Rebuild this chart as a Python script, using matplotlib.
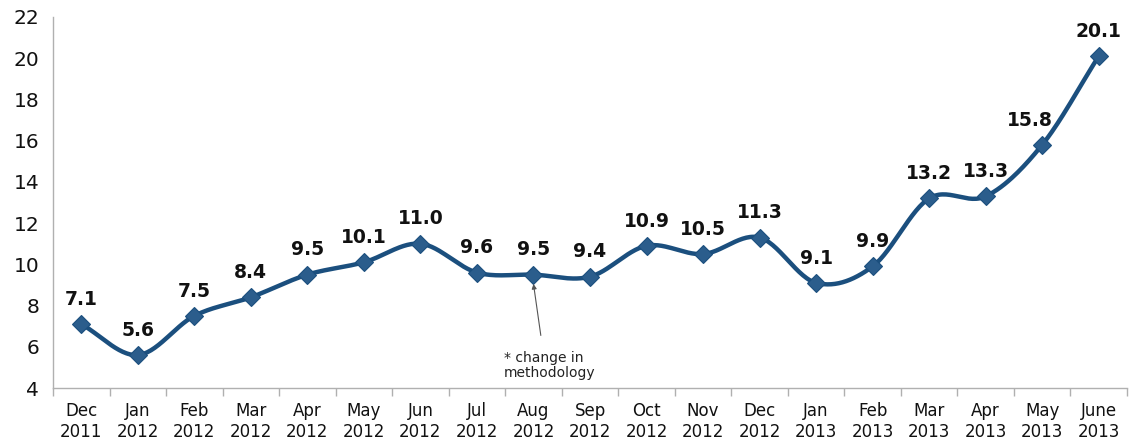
import numpy as np
import matplotlib
matplotlib.use("Agg")
import matplotlib.pyplot as plt
from matplotlib.ticker import FixedLocator

categories = ["Dec\n2011", "Jan\n2012", "Feb\n2012", "Mar\n2012", "Apr\n2012", "May\n2012",
              "Jun\n2012", "Jul\n2012", "Aug\n2012", "Sep\n2012", "Oct\n2012", "Nov\n2012",
              "Dec\n2012", "Jan\n2013", "Feb\n2013", "Mar\n2013", "Apr\n2013", "May\n2013",
              "June\n2013"]
values = [7.1, 5.6, 7.5, 8.4, 9.5, 10.1, 11.0, 9.6, 9.5, 9.4, 10.9, 10.5, 11.3,
          9.1, 9.9, 13.2, 13.3, 15.8, 20.1]
yticks = [4, 6, 8, 10, 12, 14, 16, 18, 20, 22]
note_text = "* change in\nmethodology"
note_index = 8

line_color = "#1b4f7e"
marker_color = "#2b5d8c"

def catmull_rom(x, y, n=30):
    x = np.asarray(x, float); y = np.asarray(y, float)
    px = np.concatenate([[2 * x[0] - x[1]], x, [2 * x[-1] - x[-2]]])
    py = np.concatenate([[2 * y[0] - y[1]], y, [2 * y[-1] - y[-2]]])
    xs, ys = [], []
    t = np.linspace(0, 1, n, endpoint=False)
    for i in range(1, len(px) - 2):
        f = lambda a0, a1, a2, a3: 0.5 * ((2 * a1) + (-a0 + a2) * t +
                                          (2 * a0 - 5 * a1 + 4 * a2 - a3) * t ** 2 +
                                          (-a0 + 3 * a1 - 3 * a2 + a3) * t ** 3)
        xs.append(f(px[i - 1], px[i], px[i + 1], px[i + 2]))
        ys.append(f(py[i - 1], py[i], py[i + 1], py[i + 2]))
    xs.append([x[-1]]); ys.append([y[-1]])
    return np.concatenate(xs), np.concatenate(ys)

fig = plt.figure(figsize=(11.31, 4.44), dpi=100)
ax = fig.add_axes([53 / 1131, 56 / 444, (1127 - 53) / 1131, (388 - 17) / 444])

x = np.arange(len(values))
sx, sy = catmull_rom(x, values)
ax.plot(sx, sy, color=line_color, lw=3.2, solid_capstyle="round", zorder=2)
ax.plot(x, values, ls="none", marker="D", ms=9.5, color=marker_color,
        markeredgecolor=line_color, markeredgewidth=0.8, zorder=3)

label_shift = {17: -9}
for i, (xi, v) in enumerate(zip(x, values)):
    ax.annotate(f"{v:.1f}", (xi, v), xytext=(label_shift.get(i, 0), 11),
                textcoords="offset points", ha="center", va="bottom",
                fontsize=13.5, fontweight="bold", color="#111111")

ax.annotate("", xy=(note_index, values[note_index] - 0.45), xycoords="data",
            xytext=(note_index + 0.13, 6.55), textcoords="data",
            arrowprops=dict(arrowstyle="-|>", color="#555555", lw=0.8,
                            mutation_scale=7, shrinkA=0, shrinkB=0))
ax.text(note_index - 0.52, 5.1, note_text, ha="left", va="center",
        fontsize=10, color="#222222", linespacing=1.15)

ax.set_xlim(-0.5, len(values) - 0.5)
ax.set_ylim(4, 22)
ax.set_yticks(yticks)
ax.set_yticklabels([str(t) for t in yticks])
ax.set_xticks(x)
ax.set_xticklabels(categories)
ax.xaxis.set_minor_locator(FixedLocator(np.arange(-0.5, len(values), 1.0)))
ax.tick_params(axis="x", which="major", length=0, pad=10, labelsize=12, labelcolor="#111111")
ax.tick_params(axis="x", which="minor", length=6, color="#b0b0b0", width=1)
ax.tick_params(axis="y", length=0, pad=10, labelsize=14.5, labelcolor="#111111")
for s in ["top", "right"]:
    ax.spines[s].set_visible(False)
for s in ["left", "bottom"]:
    ax.spines[s].set_color("#b0b0b0")
    ax.spines[s].set_linewidth(1)
for lbl in ax.get_xticklabels():
    lbl.set_linespacing(1.25)

fig.savefig("out.png", dpi=100)
